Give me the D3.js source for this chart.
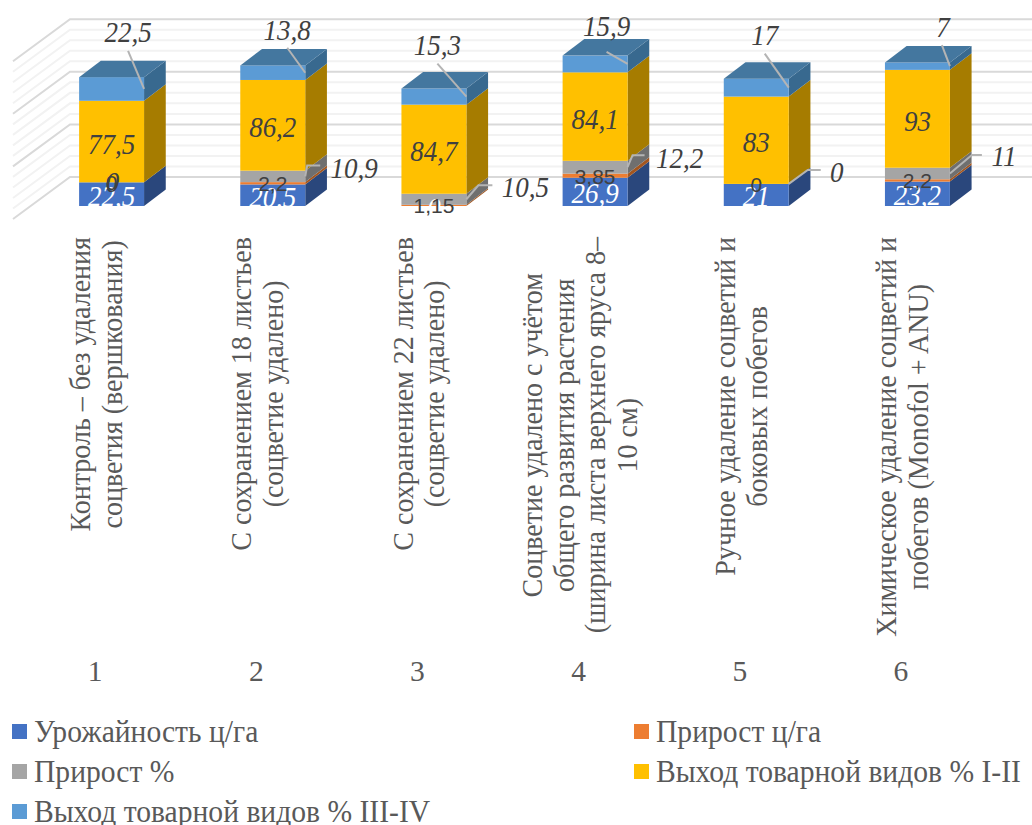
<!DOCTYPE html>
<html lang="ru">
<head>
<meta charset="utf-8">
<title>Chart</title>
<script src="https://cdn.jsdelivr.net/npm/d3@7"></script>
<style>
  html, body { margin: 0; padding: 0; background: #fff; overflow: hidden; }
  svg { display: block; }
</style>
</head>
<body>
<div id="chart"></div>
<script>
// ------------------------------------------------------------
// 1. Data
// ------------------------------------------------------------
const categories = ["1", "2", "3", "4", "5", "6"];
const categoryLines = [
  ["Контроль – без удаления", "соцветия (вершкования)"],
  ["С сохранением 18 листьев", "(соцветие удалено)"],
  ["С сохранением 22 листьев", "(соцветие удалено)"],
  ["Соцветие удалено с учётом", "общего развития растения", "(ширина листа верхнего яруса 8–", "10 см)"],
  ["Ручное удаление соцветий и", "боковых побегов"],
  ["Химическое удаление соцветий и", "побегов (Monofol + ANU)"]
];
const seriesNames = [
  "Урожайность ц/га",
  "Прирост ц/га",
  "Прирост %",
  "Выход товарной видов % I-II",
  "Выход товарной видов % III-IV"
];
const yieldValues = [22.5, 20.5, 0, 26.9, 21, 23.2];
const gainValues = [0, 2.2, 1.15, 3.85, 0, 2.2];
const gainPercent = [0, 10.9, 10.5, 12.2, 0, 11];
const gradeOneTwo = [77.5, 86.2, 84.7, 84.1, 83, 93];
const gradeThreeFour = [22.5, 13.8, 15.3, 15.9, 17, 7];
const seriesValues = [yieldValues, gainValues, gainPercent, gradeOneTwo, gradeThreeFour];

// ------------------------------------------------------------
// 2. Setup
// ------------------------------------------------------------
const width = 1032;
const height = 825;
const serif = "'Liberation Serif', 'Times New Roman', serif";
const sans = "'Liberation Sans', Arial, sans-serif";

const frontColors = ["#4472C4", "#ED7D31", "#A5A5A5", "#FFC000", "#5B9BD5"];
const sideColors = ["#2A477C", "#A3561F", "#6F6F6F", "#A67C00", "#38698F"];
const topColor = "#44779F";

// oblique offset of a bar's depth, and of the back wall from the bars' floor
const depthX = 21.7;
const depthY = 16.5;
const wallX = 57;
const wallY = 42;
const wallLift = 29;

const x = d3.scaleBand().domain(categories).range([31, 998]).paddingInner(0.597).paddingOuter(0.2985);
const y = d3.scaleLinear().domain([0, 150]).range([206, 48.2]);
const labelShift = 16.5; // category text sits left of the bar's front face

const svg = d3.select("#chart").append("svg").attr("width", width).attr("height", height);

// ------------------------------------------------------------
// 3. Back wall and side wall gridlines
// ------------------------------------------------------------
const wallLeft = 70;
const ticks = y.ticks(15);
svg.append("g").selectAll("path").data(ticks.slice().sort((a, b) => (a % 50 === 0) - (b % 50 === 0))).join("path")
  .attr("fill", "none")
  .attr("stroke", d => d % 50 === 0 ? "#D9D9D9" : "#F2F2F2")
  .attr("stroke-width", 2)
  .attr("d", d => {
    const wy = y(d) - wallLift;
    return `M${wallLeft - wallX},${wy + wallY}L${wallLeft},${wy}L${width},${wy}`;
  });

// ------------------------------------------------------------
// 4. Stacked bars, drawn as three faces per segment
// ------------------------------------------------------------
const rows = categories.map((c, i) => {
  const row = { category: c };
  seriesValues.forEach((vals, s) => { row[s] = vals[i]; });
  return row;
});
const stacked = d3.stack().keys(d3.range(seriesValues.length))(rows);
const bw = x.bandwidth();

const bars = svg.append("g");
categories.forEach((c, i) => {
  const bar = bars.append("g");
  const left = x(c);
  const right = left + bw;
  stacked.forEach((layer, s) => {
    const [y0, y1] = layer[i];
    if (y1 - y0 <= 0) return;
    const bottom = y(y0);
    const top = y(y1);
    bar.append("path")
      .attr("fill", sideColors[s])
      .attr("d", `M${right},${bottom}L${right + depthX},${bottom - depthY}L${right + depthX},${top - depthY}L${right},${top}Z`);
    bar.append("rect")
      .attr("x", left).attr("y", top)
      .attr("width", bw).attr("height", bottom - top)
      .attr("fill", frontColors[s]);
  });
  const stackTop = y(d3.max(stacked, layer => layer[i][1]));
  bar.append("path")
    .attr("fill", topColor)
    .attr("d", `M${left},${stackTop}L${left + depthX},${stackTop - depthY}L${right + depthX},${stackTop - depthY}L${right},${stackTop}Z`);
});

// ------------------------------------------------------------
// 5. Data labels
// ------------------------------------------------------------
const fmt = v => String(v).replace(".", ",");
const segMid = (s, i) => y((stacked[s][i][0] + stacked[s][i][1]) / 2);
const labels = svg.append("g");

// the reference text is a little taller than it is wide, hence the x squeeze
function putLabel(text, px, py, opts) {
  labels.append("text")
    .attr("transform", `translate(${px},${py}) scale(${opts.squeeze || 0.9},1)`)
    .attr("dy", "0.35em")
    .attr("text-anchor", "middle")
    .attr("font-family", opts.family || serif)
    .attr("font-style", opts.plain ? "normal" : "italic")
    .attr("font-size", opts.size || 30)
    .attr("fill", opts.color || "#404040")
    .text(text);
}

function leader(points) {
  labels.append("path")
    .attr("fill", "none")
    .attr("stroke", "#B4B4B4")
    .attr("stroke-width", 2)
    .attr("d", d3.line()(points));
}

// Label nudges: [elbow dx, elbow dy, line end dx, text dx, text dy] from the face's right edge
const percentCallouts = [
  null,
  [2, -11, 15, 49, -9],
  [12, -14, 26, 59, -12.5],
  [5, -12, 17, 52, -10],
  [19, -14, 32, 48, -12],
  [22, -18.5, 32, 54, -18]
];
// [line end dx, line end dy, text dx, text dy] from the face's right edge
const topCallouts = [
  [-16, -38, -16, -57],
  [-18, -25, -18, -43],
  [-29, -33, -29, -52],
  [-21, -12, -21, -38],
  [-24, -34, -24, -53],
  [-8, -21, -7, -40]
];

categories.forEach((c, i) => {
  const cx = x(c) + bw / 2;
  const right = x(c) + bw;

  putLabel(fmt(yieldValues[i]), cx, segMid(0, i) + 1, { color: "#FFFFFF" });
  putLabel(fmt(gradeOneTwo[i]), cx, segMid(3, i) + 1.5, {});

  // grey series: callout out to the right, or on the bar when it has no leader
  const pc = percentCallouts[i];
  const my = segMid(2, i);
  if (pc) {
    leader([[right, my], [right + pc[0], my + pc[1]], [right + pc[2], my + pc[1]]]);
    putLabel(fmt(gainPercent[i]), right + pc[3], my + pc[4], {});
  } else {
    putLabel(fmt(gainPercent[i]), cx + 1, my - 0.5, {});
  }

  putLabel(fmt(gainValues[i]), cx, segMid(1, i) + 0.5, { family: sans, plain: true, size: 21, squeeze: 1 });

  const tc = topCallouts[i];
  const ty = segMid(4, i);
  leader([[right, ty], [right + tc[0], ty + tc[1]]]);
  putLabel(fmt(gradeThreeFour[i]), right + tc[2], ty + tc[3], {});
});

// ------------------------------------------------------------
// 6. Two level category axis
// ------------------------------------------------------------
const axisText = "#595959";
const catFont = 29.5;
const catSqueeze = 0.95;
const lineStep = 31.7;
const labelTop = 237;

categories.forEach((c, i) => {
  const center = x(c) + bw / 2 - labelShift;
  const lines = categoryLines[i];
  const group = svg.append("g");
  const texts = group.selectAll("text").data(lines).join("text")
    .attr("font-family", serif)
    .attr("font-size", catFont)
    .attr("fill", axisText)
    .attr("text-anchor", "middle")
    .text(d => d);
  // the block hangs from labelTop and its lines are centred on the longest one
  const longest = d3.max(texts.nodes(), n => n.getComputedTextLength()) * catSqueeze;
  texts.attr("transform", (d, k) => {
    const bx = center + 11 + (k - (lines.length - 1) / 2) * lineStep;
    return `translate(${bx},${labelTop + longest / 2}) rotate(-90) scale(${catSqueeze},1)`;
  });

  svg.append("text")
    .attr("x", center).attr("y", 681)
    .attr("text-anchor", "middle")
    .attr("font-family", serif)
    .attr("font-size", catFont)
    .attr("fill", axisText)
    .text(c);
});

// ------------------------------------------------------------
// 7. Legend
// ------------------------------------------------------------
const legendX = d3.scaleOrdinal().domain([0, 1]).range([12, 634]);
const legendY = d3.scaleOrdinal().domain([0, 1, 2]).range([724, 764, 804]);

const legend = svg.append("g").selectAll("g").data(seriesNames).join("g")
  .attr("transform", (d, i) => `translate(${legendX(i % 2)},${legendY(Math.floor(i / 2))})`);
legend.append("rect")
  .attr("width", 15).attr("height", 15)
  .attr("fill", (d, i) => frontColors[i]);
legend.append("text")
  .attr("transform", "translate(22,18.3) scale(0.955,1)")
  .attr("font-family", serif)
  .attr("font-size", 31)
  .attr("fill", axisText)
  .text(d => d);
</script>
</body>
</html>
